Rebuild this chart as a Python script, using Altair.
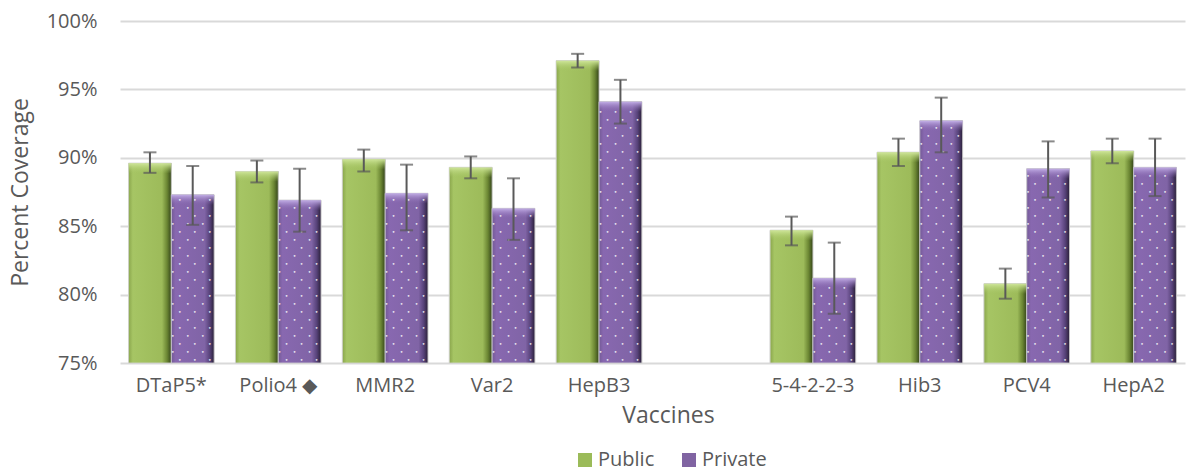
import altair as alt
import pandas as pd

# ---- data ----
vaccines = ["DTaP5*", "Polio4 ◆", "MMR2", "Var2", "HepB3", " ", "5-4-2-2-3", "Hib3", "PCV4", "HepA2"]
bar_vaccines = ["DTaP5*", "Polio4 ◆", "MMR2", "Var2", "HepB3", "5-4-2-2-3", "Hib3", "PCV4", "HepA2"]
public = [89.6, 89.0, 89.9, 89.3, 97.1, 84.7, 90.4, 80.8, 90.5]
public_lo = [88.9, 88.2, 89.0, 88.5, 96.6, 83.6, 89.4, 79.7, 89.6]
public_hi = [90.4, 89.8, 90.6, 90.1, 97.6, 85.7, 91.4, 81.9, 91.4]
private = [87.3, 86.9, 87.4, 86.3, 94.1, 81.2, 92.7, 89.2, 89.3]
private_lo = [85.1, 84.6, 84.7, 84.0, 92.5, 78.6, 90.4, 87.1, 87.2]
private_hi = [89.4, 89.2, 89.5, 88.5, 95.7, 83.8, 94.4, 91.2, 91.4]
series = ["Public", "Private"]
y_ticks = [75, 80, 85, 90, 95, 100]

rows = []
for i, v in enumerate(bar_vaccines):
    rows.append({"vaccine": v, "series": "Public", "value": public[i], "lo": public_lo[i], "hi": public_hi[i]})
    rows.append({"vaccine": v, "series": "Private", "value": private[i], "lo": private_lo[i], "hi": private_hi[i]})
df = pd.DataFrame(rows)

# decorative dot texture rows for the patterned (Private) bars
dot_rows = []
for i, v in enumerate(bar_vaccines):
    k = 0
    while True:
        yy = 75.2 + k * 0.585
        if yy > private[i] - 0.35:
            break
        dot_rows.append({"vaccine": v, "series": "Private", "y": yy, "parity": k % 2})
        k += 1
dots = pd.DataFrame(dot_rows)

FONT = "Open Sans"
GREY = "#595959"

xenc = alt.X("vaccine:N", scale=alt.Scale(domain=vaccines, paddingInner=0.2, paddingOuter=0.08),
             axis=alt.Axis(title="Vaccines", labelFontSize=20, titleFontSize=23, labelPadding=12,
                           titlePadding=9, ticks=False, domain=False, labelAngle=0,
                           titleX=548, labelColor=GREY, titleColor=GREY, labelFont=FONT, titleFont=FONT,
                           titleFontWeight="normal"))
xoff = alt.XOffset("series:N", scale=alt.Scale(domain=series, paddingInner=0, paddingOuter=0))
yscale = alt.Scale(domain=[75, 100], zero=False, nice=False)
yenc = alt.Y("value:Q", scale=yscale,
             axis=alt.Axis(title="Percent Coverage", values=y_ticks, labelExpr="datum.value + '%'",
                           grid=True, gridColor="#d9d9d9", gridWidth=2, domain=False, ticks=False,
                           labelFontSize=20, titleFontSize=23, labelPadding=23, titlePadding=14,
                           labelColor=GREY, titleColor=GREY, labelFont=FONT, titleFont=FONT,
                           titleFontWeight="normal"))

base = alt.Chart(df)

flat = base.mark_bar(stroke="#cfcfcf", strokeWidth=0.8).encode(
    x=xenc, xOffset=xoff, y=yenc, y2=alt.datum(75),
    color=alt.Color("series:N", scale=alt.Scale(domain=series, range=["#9bbb59", "#8064a2"]),
                    legend=alt.Legend(title=None, orient="none", legendX=455, legendY=429,
                                      direction="horizontal", symbolType="square", symbolSize=196,
                                      symbolStrokeWidth=0, labelFontSize=20, labelFont=FONT,
                                      labelColor=GREY, columnPadding=24, labelOffset=3)))

green_grad = alt.LinearGradient(gradient="linear", x1=0, x2=1, y1=0, y2=0, stops=[
    alt.GradientStop(offset=0, color="#8aa64c"), alt.GradientStop(offset=0.1, color="#a6c564"),
    alt.GradientStop(offset=0.78, color="#9dbb5a"), alt.GradientStop(offset=0.9, color="#6b8633"),
    alt.GradientStop(offset=1, color="#34441a")])
purple_grad = alt.LinearGradient(gradient="linear", x1=0, x2=1, y1=0, y2=0, stops=[
    alt.GradientStop(offset=0, color="#735a96"), alt.GradientStop(offset=0.1, color="#8868b0"),
    alt.GradientStop(offset=0.78, color="#8064a6"), alt.GradientStop(offset=0.9, color="#574279"),
    alt.GradientStop(offset=1, color="#2a2038")])
green_top = alt.LinearGradient(gradient="linear", x1=0, x2=0, y1=0, y2=1, stops=[
    alt.GradientStop(offset=0, color="#cfe69a"), alt.GradientStop(offset=1, color="rgba(166,197,100,0)")])
purple_top = alt.LinearGradient(gradient="linear", x1=0, x2=0, y1=0, y2=1, stops=[
    alt.GradientStop(offset=0, color="#c2aee6"), alt.GradientStop(offset=1, color="rgba(136,104,176,0)")])

layers = [flat]
for s, g, t in [("Public", green_grad, green_top), ("Private", purple_grad, purple_top)]:
    layers.append(base.transform_filter(alt.datum.series == s).mark_bar(
        color=g, stroke="#d4d4d4", strokeWidth=0.8).encode(
        x=xenc, xOffset=xoff, y=yenc, y2=alt.datum(75)))
    layers.append(base.transform_filter(alt.datum.series == s).transform_calculate(
        ytop="datum.value - 0.75").mark_bar(color=t).encode(
        x=xenc, xOffset=xoff, y=yenc, y2=alt.Y2("ytop:Q")))

for parity, dxs in [(0, [-13, 2, 17]), (1, [-20, -5, 10])]:
    for dx in dxs:
        layers.append(alt.Chart(dots).transform_filter(alt.datum.parity == parity).mark_text(
            text="•", fontSize=6, color="white", opacity=0.85, dx=dx, baseline="middle",
            font="DejaVu Sans").encode(
            x=xenc, xOffset=xoff, y=alt.Y("y:Q", scale=yscale)))

layers.append(base.mark_rule(color=GREY, strokeWidth=2).encode(
    x=xenc, xOffset=xoff, y=alt.Y("lo:Q", scale=yscale), y2="hi:Q"))
for fld in ["lo", "hi"]:
    layers.append(base.mark_tick(color=GREY, size=13, thickness=2).encode(
        x=xenc, xOffset=xoff, y=alt.Y(f"{fld}:Q", scale=yscale)))

chart = alt.layer(*layers).properties(
    width=1065, height=342,
    autosize=alt.AutoSizeParams(type="none"),
    padding={"left": 120, "top": 21, "right": 1, "bottom": 109},
    background="white",
).configure_view(stroke=None)

chart.save("out.html", embed_options={"renderer": "svg", "actions": False})
